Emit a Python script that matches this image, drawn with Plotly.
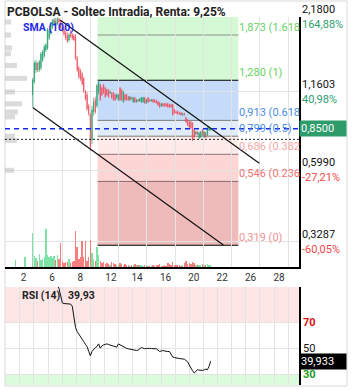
import math
import plotly.graph_objects as go

# ---------------- data ----------------
title_text = "PCBOLSA - Soltec Intradia, Renta: 9,25%"

opens = [1.132, 1.263, 1.396, 1.481, 1.396, 1.420, 1.519, 1.571, 1.652, 1.680,
         1.827, 1.906, 2.004, 2.056, 2.108, 2.056, 2.144, 2.091, 2.021, 1.971,
         1.906, 1.858, 1.796, 1.906, 1.874, 1.858, 1.842, 1.544, 1.420, 1.385,
         1.350, 1.295, 1.161, 1.132, 1.032, 0.957, 0.774, 0.981, 1.085, 1.032,
         1.161,
         1.231, 1.200, 1.231, 1.200, 1.180, 1.180, 1.151, 1.151, 1.151, 1.132,
         1.104, 1.085, 1.200, 1.180, 1.067, 1.132, 1.132, 1.113, 1.085, 1.104,
         1.067, 1.104, 1.067, 1.085, 1.076, 1.067, 1.067, 1.104, 1.058, 1.104,
         1.085, 1.076, 1.085, 1.085, 1.076, 1.067, 1.058, 1.032, 1.049, 1.049,
         1.049, 1.049, 1.041, 1.041, 1.041, 0.998, 0.981, 0.981, 0.973, 0.973,
         0.957, 0.965, 0.933, 0.916, 0.900, 0.900, 0.893, 0.842, 0.814, 0.828,
         0.787, 0.794, 0.842, 0.794, 0.821, 0.807, 0.842, 0.845]
highs = [1.306, 1.506, 1.519, 1.493, 1.519, 1.624, 1.652, 1.722, 1.752, 1.988,
         1.971, 2.091, 2.144, 2.162, 2.162, 2.180, 2.162, 2.126, 2.073, 2.004,
         1.938, 1.922, 1.906, 1.954, 1.906, 1.890, 1.890, 1.571, 1.444, 1.408,
         1.373, 1.317, 1.180, 1.161, 1.049, 0.973, 1.032, 1.104, 1.113, 1.242,
         1.284,
         1.242, 1.211, 1.242, 1.211, 1.190, 1.190, 1.171, 1.161, 1.161, 1.141,
         1.141, 1.141, 1.211, 1.190, 1.171, 1.141, 1.141, 1.122, 1.122, 1.113,
         1.113, 1.113, 1.094, 1.094, 1.104, 1.113, 1.113, 1.113, 1.094, 1.113,
         1.094, 1.094, 1.094, 1.094, 1.085, 1.076, 1.067, 1.058, 1.058, 1.058,
         1.058, 1.058, 1.049, 1.049, 1.049, 1.006, 0.990, 0.990, 0.981, 0.981,
         0.973, 0.973, 0.941, 0.925, 0.908, 0.908, 0.900, 0.849, 0.835, 0.835,
         0.828, 0.835, 0.849, 0.835, 0.828, 0.863, 0.870, 0.856]
lows = [1.023, 1.242, 1.362, 1.373, 1.373, 1.396, 1.493, 1.544, 1.624, 1.652,
        1.796, 1.874, 1.971, 2.021, 2.021, 2.038, 2.056, 1.971, 1.922, 1.858,
        1.796, 1.752, 1.766, 1.827, 1.796, 1.781, 1.519, 1.373, 1.295, 1.273,
        1.221, 1.151, 1.076, 0.990, 0.949, 0.705, 0.748, 0.949, 0.965, 1.015,
        1.132,
        1.076, 1.122, 1.141, 1.104, 1.122, 1.104, 1.141, 1.094, 1.076, 1.076,
        1.094, 1.076, 1.076, 1.076, 1.058, 1.076, 1.076, 1.076, 1.076, 1.085,
        1.058, 1.058, 1.058, 1.067, 1.067, 1.058, 1.058, 1.049, 1.049, 1.058,
        1.067, 1.067, 1.058, 1.058, 1.049, 1.032, 1.015, 1.023, 1.023, 1.023,
        1.023, 1.015, 1.015, 1.015, 0.949, 0.965, 0.965, 0.957, 0.957, 0.949,
        0.949, 0.949, 0.893, 0.870, 0.856, 0.849, 0.767, 0.787, 0.807, 0.807,
        0.780, 0.787, 0.800, 0.787, 0.787, 0.800, 0.835, 0.835]
closes = [1.284, 1.481, 1.481, 1.396, 1.493, 1.597, 1.624, 1.694, 1.722, 1.954,
          1.938, 2.073, 2.108, 2.126, 2.056, 2.144, 2.091, 2.004, 1.954, 1.890,
          1.827, 1.781, 1.874, 1.858, 1.827, 1.796, 1.544, 1.396, 1.317, 1.295,
          1.242, 1.171, 1.094, 1.006, 0.965, 0.729, 0.998, 1.067, 0.981, 1.221,
          1.263,
          1.085, 1.132, 1.151, 1.113, 1.132, 1.113, 1.161, 1.104, 1.085, 1.085,
          1.132, 1.132, 1.085, 1.085, 1.161, 1.085, 1.085, 1.085, 1.113, 1.094,
          1.104, 1.067, 1.085, 1.076, 1.094, 1.104, 1.104, 1.058, 1.085, 1.067,
          1.076, 1.085, 1.067, 1.067, 1.058, 1.041, 1.023, 1.049, 1.032, 1.032,
          1.032, 1.023, 1.023, 1.023, 0.957, 0.973, 0.973, 0.965, 0.965, 0.957,
          0.965, 0.957, 0.900, 0.878, 0.863, 0.856, 0.774, 0.794, 0.828, 0.814,
          0.821, 0.828, 0.807, 0.828, 0.794, 0.856, 0.863, 0.850]

volumes = [340, 110, 90, 60, 130, 70, 80, 100, 380, 120,
           100, 110, 90, 110, 70, 120, 80, 240, 60, 40,
           50, 50, 80, 40, 50, 60, 360, 200, 80, 100,
           260, 100, 260, 60, 100, 270, 140, 80, 60, 200,
           120, 60, 40, 50, 30, 40, 30, 20, 50, 40,
           30, 20, 20, 40, 30, 20, 30, 20, 20, 10,
           20, 20, 30, 20, 20, 20, 20, 10, 20, 20,
           10, 10, 10, 20, 10, 20, 20, 30, 10, 10,
           20, 10, 40, 30, 20, 50, 20, 20, 20, 20,
           10, 20, 40, 60, 30, 40, 30, 50, 40, 20,
           20, 20, 20, 30, 20, 20, 30, 20, 20]
pre_volume_pos = [-10.3, -4.7]
pre_volume = [70, 100]

rsi_start = 14
rsi_values = [100, 99, 96, 90, 85, 84.5, 84.4, 84.3, 84.2, 84.1,
              82.5, 75, 66, 62.8, 61, 59.5, 57.5, 55, 53, 51.2,
              47.5, 44.1, 47.5, 49.5, 50.5, 51.2, 53.3, 50, 51.8, 52.5,
              53.0, 53.3, 52.8, 52.5, 52.0, 51.8, 51.2, 50.8, 53.3, 52.5,
              51.8, 51, 50, 49.8, 49.5, 49.2, 49, 48.7, 48.5, 48.2,
              48.5, 49.5, 50.5, 50, 49.5, 49.8, 50, 49.8, 49.7, 49.7,
              49.6, 49.5, 48.5, 47.4, 47.8, 48.2, 47.8, 47.4, 47.4, 47.4,
              45, 43.1, 42.7, 42.3, 42.1, 42, 41.8, 41.6, 41.5, 40.5,
              39.5, 37, 34.5, 32.5, 30.8, 32.5, 33.3, 33, 32.8, 32.8,
              33.2, 33.8, 33.3, 35.8, 39.93]

profile_prices = [2.09, 1.874, 1.68, 1.60, 1.45, 1.30, 1.16, 1.05, 0.98, 0.94, 0.80, 0.77, 0.60]
profile_sizes = [6, 6, 7, 6, 12, 22, 10, 17, 13, 10, 10, 12, 9]

fib_levels = [1.873, 1.280, 0.913, 0.799, 0.686, 0.546, 0.319]
fib_texts = ["1,873 (1.618", "1,280 (1)", "0,913 (0.618", "0,799 (0.5)",
             "0,686 (0.382", "0,546 (0.236", "0,319 (0)"]
fib_start, fib_end = 39.4, 124.8

channel_upper = ([16.6, 137.5], [2.126, 0.636])
channel_lower = ([0.0, 115.7], [1.017, 0.3196])

last_price = 0.85
reference_price = 0.778

price_ticks = [2.18, 1.1603, 0.599, 0.3287]
price_tick_text = ["2,1800", "1,1603", "0,5990", "0,3287"]
pct_text = ["164,88%", "40,98%", "-27,21%", "-60,05%"]

x_labels = ["2", "6", "8", "12", "14", "16", "20", "22", "26", "28"]
x_label_pos = [-5.6, 11.7, 28.9, 47.5, 63.3, 80.6, 97.8, 115.0, 132.2, 149.5]
x_grid_main = [0.7, 17.9, 35.0, 52.1, 69.3, 86.4, 103.6, 120.7, 137.9, 155.0]
x_grid_rsi = [-7.8 + 8.57 * k for k in range(20)]

rsi_last_text = "39,933"
rsi_title = "RSI (14)"
rsi_title_val = "39,93"
last_price_text = "0,8500"

# ---------------- geometry ----------------
W, H = 353, 390
ML, MR, MT, MB = 5, 54, 17, 5
PW, PH = W - ML - MR, H - MT - MB


def pyf(px):
    return (H - MB - px) / PH


def pxf(px):
    return (px - ML) / PW


x_range = [-16.8, 161.6]
y_range = [math.log10(0.2656), math.log10(2.18)]
rsi_range = [21.5, 97.3]

GREEN = "#22a06b"
RED = "#ee4f5f"
n = len(closes)
idx = list(range(n))

fig = go.Figure()

# volume
VG = "rgba(120,224,160,0.95)"
VR = "rgba(248,118,118,0.95)"
vcol = [VG if closes[i] >= opens[i] else VR for i in idx]
fig.add_trace(go.Bar(x=idx, y=volumes, marker=dict(color=vcol, line=dict(width=0)),
                     width=0.85, xaxis="x", yaxis="y3", hoverinfo="skip"))
fig.add_trace(go.Bar(x=pre_volume_pos, y=pre_volume,
                     marker=dict(color=VG, line=dict(width=0)),
                     width=0.85, xaxis="x", yaxis="y3", hoverinfo="skip"))

# candles
fig.add_trace(go.Candlestick(x=idx, open=opens, high=highs, low=lows, close=closes,
                             increasing=dict(line=dict(color=GREEN, width=0.7), fillcolor=GREEN),
                             decreasing=dict(line=dict(color=RED, width=0.7), fillcolor=RED),
                             whiskerwidth=0, xaxis="x", yaxis="y", hoverinfo="skip"))

# channel lines
for cx, cy in (channel_upper, channel_lower):
    fig.add_trace(go.Scatter(x=cx, y=cy, mode="lines", line=dict(color="#111", width=1.2),
                             xaxis="x", yaxis="y", hoverinfo="skip"))

# volume profile
px_, py_ = [], []
for p, s in zip(profile_prices, profile_sizes):
    px_ += [0, s, None]
    py_ += [p, p, None]
fig.add_trace(go.Scatter(x=px_, y=py_, mode="lines", line=dict(color="rgba(175,175,175,0.45)", width=5),
                         xaxis="x3", yaxis="y", hoverinfo="skip"))

# grid overlay dummy
fig.add_trace(go.Scatter(x=[x_grid_main[0]], y=[1.0], mode="markers", marker=dict(opacity=0),
                         xaxis="x4", yaxis="y", hoverinfo="skip"))

# RSI
fig.add_trace(go.Scatter(x=list(range(rsi_start, rsi_start + len(rsi_values))), y=rsi_values,
                         mode="lines", line=dict(color="#111", width=1), xaxis="x2", yaxis="y2",
                         hoverinfo="skip"))

shapes = []
band_colors = ["#d5f8d5", "#d5f8d5", "#c4dbf9", "#e2edfb", "#ffeaea", "#fdd5d5", "#eebaba"]
band_tops = [2.18] + fib_levels[:-1]
band_bots = [fib_levels[0]] + fib_levels[1:]
for top, bot, col in zip(band_tops, band_bots, band_colors):
    shapes.append(dict(type="rect", xref="x", yref="y", x0=fib_start, x1=fib_end, y0=bot, y1=top,
                       fillcolor=col, line=dict(width=0), layer="below"))
line_cols = ["#8c948c", "#000000", "#7a7a7a", "#7a7a7a", "#8a7474", "#8a6a6a", "#000000"]
for lv, lc in zip(fib_levels, line_cols):
    shapes.append(dict(type="line", xref="x", yref="y", x0=fib_start, x1=fib_end, y0=lv, y1=lv,
                       line=dict(color=lc, width=1.2 if lc == "#000000" else 1), layer="below"))
shapes.append(dict(type="line", xref="x domain", yref="y", x0=0, x1=1, y0=last_price, y1=last_price,
                   line=dict(color="#1428e6", width=1.5, dash="5px,4px"), layer="above"))
shapes.append(dict(type="line", xref="x domain", yref="y", x0=0, x1=1, y0=reference_price, y1=reference_price,
                   line=dict(color="#222", width=1, dash="2px,2px"), layer="above"))
shapes.append(dict(type="rect", xref="x2 domain", yref="y2", x0=0, x1=1, y0=70, y1=rsi_range[1],
                   fillcolor="#ffe6e6", line=dict(width=0), layer="below"))
shapes.append(dict(type="rect", xref="x2 domain", yref="y2", x0=0, x1=1, y0=rsi_range[0], y1=30,
                   fillcolor="#dcfbdc", line=dict(width=0), layer="below"))
shapes.append(dict(type="rect", xref="paper", yref="paper", x0=0, x1=pxf(347), y0=pyf(386), y1=pyf(1),
                   line=dict(color="#d9d9d9", width=1), fillcolor="rgba(0,0,0,0)", layer="below"))

ann = []
FONT = "Roboto"
ann.append(dict(xref="paper", yref="paper", x=0, y=pyf(12), xanchor="left", yanchor="middle",
                text="<b>" + title_text + "</b>", showarrow=False,
                font=dict(family=FONT, size=12, color="#222")))
ann.append(dict(xref="paper", yref="paper", x=pxf(21), y=pyf(28), xanchor="left", yanchor="middle",
                text="<b>SMA (100)</b>", showarrow=False, font=dict(family=FONT, size=10.5, color="#1f2ae8")))
fib_cols = ["#66d266", "#66d266", "#4a8ee0", "#4a8ee0", "#f6a6a6", "#f07474", "#f09494"]
for lv, tx, fc in zip(fib_levels, fib_texts, fib_cols):
    ann.append(dict(xref="x", yref="y", x=fib_end, y=math.log10(lv), xanchor="left", yanchor="bottom",
                    text=tx, showarrow=False, borderpad=0, font=dict(family=FONT, size=11, color=fc)))
for pv, pt, pc in zip(price_ticks, price_tick_text, pct_text):
    ann.append(dict(xref="paper", yref="y", x=1, xshift=2, y=math.log10(pv), xanchor="left", yanchor="bottom",
                    text=pt, showarrow=False, borderpad=0, font=dict(family=FONT, size=11, color="#111")))
    ann.append(dict(xref="paper", yref="y", x=1, xshift=2, y=math.log10(pv), xanchor="left", yanchor="top",
                    text=pc, showarrow=False, borderpad=0,
                    font=dict(family=FONT, size=11, color="#f04848" if pc.startswith("-") else "#2f9e70")))
ann.append(dict(xref="paper", yref="y", x=1, y=math.log10(last_price), xanchor="left", yanchor="middle",
                text=last_price_text, showarrow=False, bgcolor="#2e9b6b", width=44, align="left",
                borderpad=1, font=dict(family=FONT, size=11, color="white")))
for v, c in ((70, "#e01010"), (50, "#111"), (30, "#1c9a1c")):
    ann.append(dict(xref="paper", yref="y2", x=1, xshift=2, y=v, xanchor="left", yanchor="middle",
                    text=("<b>%d</b>" % v) if v != 50 else str(v), showarrow=False,
                    font=dict(family=FONT, size=11, color=c)))
ann.append(dict(xref="paper", yref="y2", x=1, y=rsi_values[-1], xanchor="left", yanchor="middle",
                text=rsi_last_text, showarrow=False, bgcolor="#000", width=44, align="left",
                borderpad=1, font=dict(family=FONT, size=11, color="white")))
ann.append(dict(xref="paper", yref="paper", x=pxf(20), y=pyf(295), xanchor="left", yanchor="middle",
                text="<b>" + rsi_title + "</b>", showarrow=False, font=dict(family=FONT, size=10.5, color="#222")))
ann.append(dict(xref="paper", yref="paper", x=pxf(66), y=pyf(295), xanchor="left", yanchor="middle",
                text="<b>" + rsi_title_val + "</b>", showarrow=False, font=dict(family=FONT, size=10.5, color="#222")))

main_dom = [pyf(267), 1]
rsi_dom = [0, pyf(287)]
GRID = "#e3e3e3"

fig.update_layout(
    width=W, height=H, margin=dict(l=ML, r=MR, t=MT, b=MB),
    paper_bgcolor="white", plot_bgcolor="white", showlegend=False, hovermode=False,
    bargap=0, boxgap=0.6, shapes=shapes, annotations=ann,
    xaxis=dict(domain=[0, 1], anchor="y", range=x_range, tickvals=x_label_pos, ticktext=x_labels,
               showgrid=False, zeroline=False, ticks="", showline=True, linecolor="#000", linewidth=1.5,
               tickfont=dict(family=FONT, size=10, color="#333"), rangeslider=dict(visible=False)),
    xaxis2=dict(domain=[0, 1], anchor="y2", range=x_range, tickvals=x_grid_rsi, showticklabels=False,
                showgrid=True, gridcolor=GRID, zeroline=False, ticks=""),
    xaxis3=dict(overlaying="x", range=[0, PW], visible=False),
    xaxis4=dict(overlaying="x", anchor="y", range=x_range, tickvals=x_grid_main, showticklabels=False,
                showgrid=True, gridcolor=GRID, zeroline=False, ticks="", showline=False),
    yaxis=dict(domain=main_dom, anchor="x", type="log", range=y_range, side="right", tickvals=price_ticks,
               showticklabels=False, showgrid=True, gridcolor=GRID, zeroline=False, ticks="",
               showline=True, linecolor="#000", linewidth=1.5),
    yaxis2=dict(domain=rsi_dom, anchor="x2", range=rsi_range, side="right", tickvals=[30, 50, 70],
                showticklabels=False, showgrid=True, gridcolor=GRID, zeroline=False, ticks="",
                showline=True, linecolor="#000", linewidth=1.5),
    yaxis3=dict(overlaying="y", range=[0, 2500], visible=False),
)

fig.write_html("out.html")
